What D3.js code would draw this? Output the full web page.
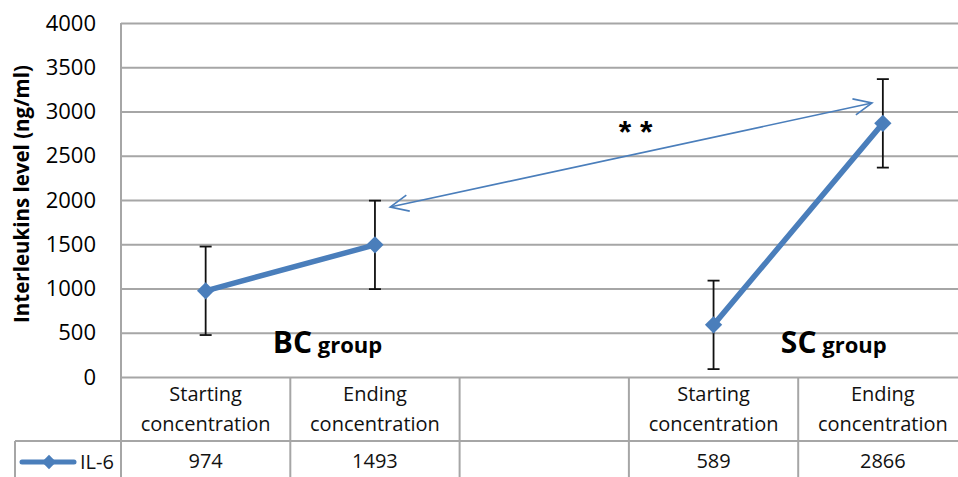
<!DOCTYPE html>
<html><head><meta charset="utf-8">
<script src="https://cdn.jsdelivr.net/npm/d3@7"></script>
<style>
html,body{margin:0;padding:0;background:#fff;}
svg{display:block;font-family:"Open Sans",sans-serif;}
</style></head>
<body>
<svg id="chart" width="958" height="477"></svg>
<script>
// ---- data ----
const categories = [["Starting","concentration"],["Ending","concentration"],["",""],["Starting","concentration"],["Ending","concentration"]];
const seriesName = "IL-6";
const values = [974, 1493, null, 589, 2866];
const errors = [500, 500, null, 500, 500];
const yTicks = [0,500,1000,1500,2000,2500,3000,3500,4000];
const yTitle = "Interleukins level (ng/ml)";
const groupLabels = [{big:"BC", small:" group", cat:0.72, value:271}, {big:"SC", small:" group", cat:3.71, value:271}];
const arrowFrom = {cat:1.09, value:1921};
const arrowTo = {cat:3.936, value:3096};
const sigLabel = {text:"* *", cat:2.54, value:2644};

(function(){
const svg = d3.select("#chart");
const W = 958, H = 477;
const mLeft = 121, mTop = 23, mBottom = 377;
const catRowBottom = 441;
const tableLeft = 15;
const blue = "#4a7ebb", grid = "#a6a6a6";

const x = d3.scaleBand().domain(d3.range(categories.length)).range([mLeft, mLeft + 5*169.3]).padding(0);
const xc = i => mLeft + (i + 0.5) * x.bandwidth();
const y = d3.scaleLinear().domain([0,4000]).range([mBottom, mTop]);

// gridlines
const yAxis = d3.axisLeft(y).tickValues(yTicks).tickSize(-(W - mLeft)).tickPadding(25).tickFormat(d3.format("d"));
const gAxis = svg.append("g").attr("transform", `translate(${mLeft},0)`).call(yAxis);
gAxis.select(".domain").remove();
gAxis.selectAll(".tick line").attr("stroke", grid).attr("stroke-width", 2);
gAxis.selectAll(".tick text").attr("font-size", 22).attr("fill", "#000").attr("font-family", "Open Sans, sans-serif");

// plot left border extending through table
svg.append("line").attr("x1", mLeft).attr("x2", mLeft).attr("y1", mTop).attr("y2", H).attr("stroke", grid).attr("stroke-width", 2);

// category boundaries in table
const bounds = d3.range(1, categories.length).map(i => x(i));
svg.selectAll(".vb").data(bounds).join("line")
  .attr("x1", d => d).attr("x2", d => d).attr("y1", mBottom).attr("y2", H)
  .attr("stroke", grid).attr("stroke-width", 2);
// table row line
svg.append("line").attr("x1", tableLeft).attr("x2", W).attr("y1", catRowBottom).attr("y2", catRowBottom).attr("stroke", grid).attr("stroke-width", 2);
svg.append("line").attr("x1", tableLeft).attr("x2", tableLeft).attr("y1", catRowBottom).attr("y2", H).attr("stroke", grid).attr("stroke-width", 2);

// category labels
const catG = svg.selectAll(".cat").data(categories).join("text")
  .attr("text-anchor", "middle").attr("font-size", 20).attr("fill", "#111");
catG.append("tspan").attr("x", (d,i) => xc(i)).attr("y", 401).text(d => d[0]);
catG.append("tspan").attr("x", (d,i) => xc(i)).attr("y", 431).text(d => d[1]);

// values row
svg.selectAll(".val").data(values).join("text")
  .attr("x", (d,i) => xc(i)).attr("y", 468).attr("text-anchor", "middle")
  .attr("font-size", 20).attr("fill", "#111").text(d => d == null ? "" : d);

// legend key in table
const diamond = d3.symbol().type(d3.symbolDiamond2).size(190);
svg.append("line").attr("x1", 22).attr("x2", 74).attr("y1", 462).attr("y2", 462).attr("stroke", blue).attr("stroke-width", 5).attr("stroke-linecap","round");
svg.append("path").attr("d", d3.symbol().type(d3.symbolDiamond2).size(130)()).attr("transform", "translate(49,462)").attr("fill", blue);
svg.append("text").attr("x", 80).attr("y", 469).attr("font-size", 20).attr("fill", "#111").text(seriesName);

// y title
svg.append("text").attr("transform", `translate(29,194) rotate(-90)`)
  .attr("text-anchor", "middle").attr("font-size", 20.5).attr("font-weight", "bold").attr("fill", "#000").text(yTitle);

// series line
const pts = values.map((v,i) => ({i, v, e: errors[i]}));
const line = d3.line().defined(d => d.v != null).x(d => xc(d.i)).y(d => y(d.v));
svg.append("path").datum(pts).attr("d", line).attr("fill", "none").attr("stroke", blue).attr("stroke-width", 5.5).attr("stroke-linejoin","round");

// error bars
const eb = svg.selectAll(".eb").data(pts.filter(d => d.v != null)).join("g");
eb.append("line").attr("x1", d => xc(d.i)).attr("x2", d => xc(d.i)).attr("y1", d => y(d.v - d.e)).attr("y2", d => y(d.v + d.e)).attr("stroke", "#111").attr("stroke-width", 1.8);
eb.append("line").attr("x1", d => xc(d.i)-6).attr("x2", d => xc(d.i)+6).attr("y1", d => y(d.v + d.e)).attr("y2", d => y(d.v + d.e)).attr("stroke", "#111").attr("stroke-width", 1.8);
eb.append("line").attr("x1", d => xc(d.i)-6).attr("x2", d => xc(d.i)+6).attr("y1", d => y(d.v - d.e)).attr("y2", d => y(d.v - d.e)).attr("stroke", "#111").attr("stroke-width", 1.8);

// markers
svg.selectAll(".mk").data(pts.filter(d => d.v != null)).join("path")
  .attr("d", diamond()).attr("transform", d => `translate(${xc(d.i)},${y(d.v)})`).attr("fill", blue);

// double-headed arrow
const ax1 = xc(arrowFrom.cat), ay1 = y(arrowFrom.value), ax2 = xc(arrowTo.cat), ay2 = y(arrowTo.value);
svg.append("line").attr("x1", ax1).attr("y1", ay1).attr("x2", ax2).attr("y2", ay2).attr("stroke", blue).attr("stroke-width", 1.6);
function head(tx, ty, fx, fy) {
  const ang = Math.atan2(fy - ty, fx - tx), L = 20, s = 0.42;
  const p1 = [tx + L*Math.cos(ang + s), ty + L*Math.sin(ang + s)];
  const p2 = [tx + L*Math.cos(ang - s), ty + L*Math.sin(ang - s)];
  svg.append("path").attr("d", `M${p1}L${tx},${ty}L${p2}`).attr("fill", "none").attr("stroke", blue).attr("stroke-width", 1.6);
}
head(ax1, ay1, ax2, ay2);
head(ax2, ay2, ax1, ay1);

// significance
svg.append("text").attr("x", xc(sigLabel.cat)).attr("y", y(sigLabel.value)).attr("text-anchor", "middle")
  .attr("font-size", 32).attr("font-weight", "bold").attr("font-family", "Liberation Sans, sans-serif").attr("fill", "#000").text(sigLabel.text);

// group labels
groupLabels.forEach(g => {
  const t = svg.append("text").attr("x", xc(g.cat)).attr("y", y(g.value)).attr("text-anchor", "middle").attr("font-weight", "bold").attr("fill", "#000");
  t.append("tspan").attr("font-size", 30).text(g.big);
  t.append("tspan").attr("font-size", 22).text(g.small);
});
})();
</script>
</body></html>
